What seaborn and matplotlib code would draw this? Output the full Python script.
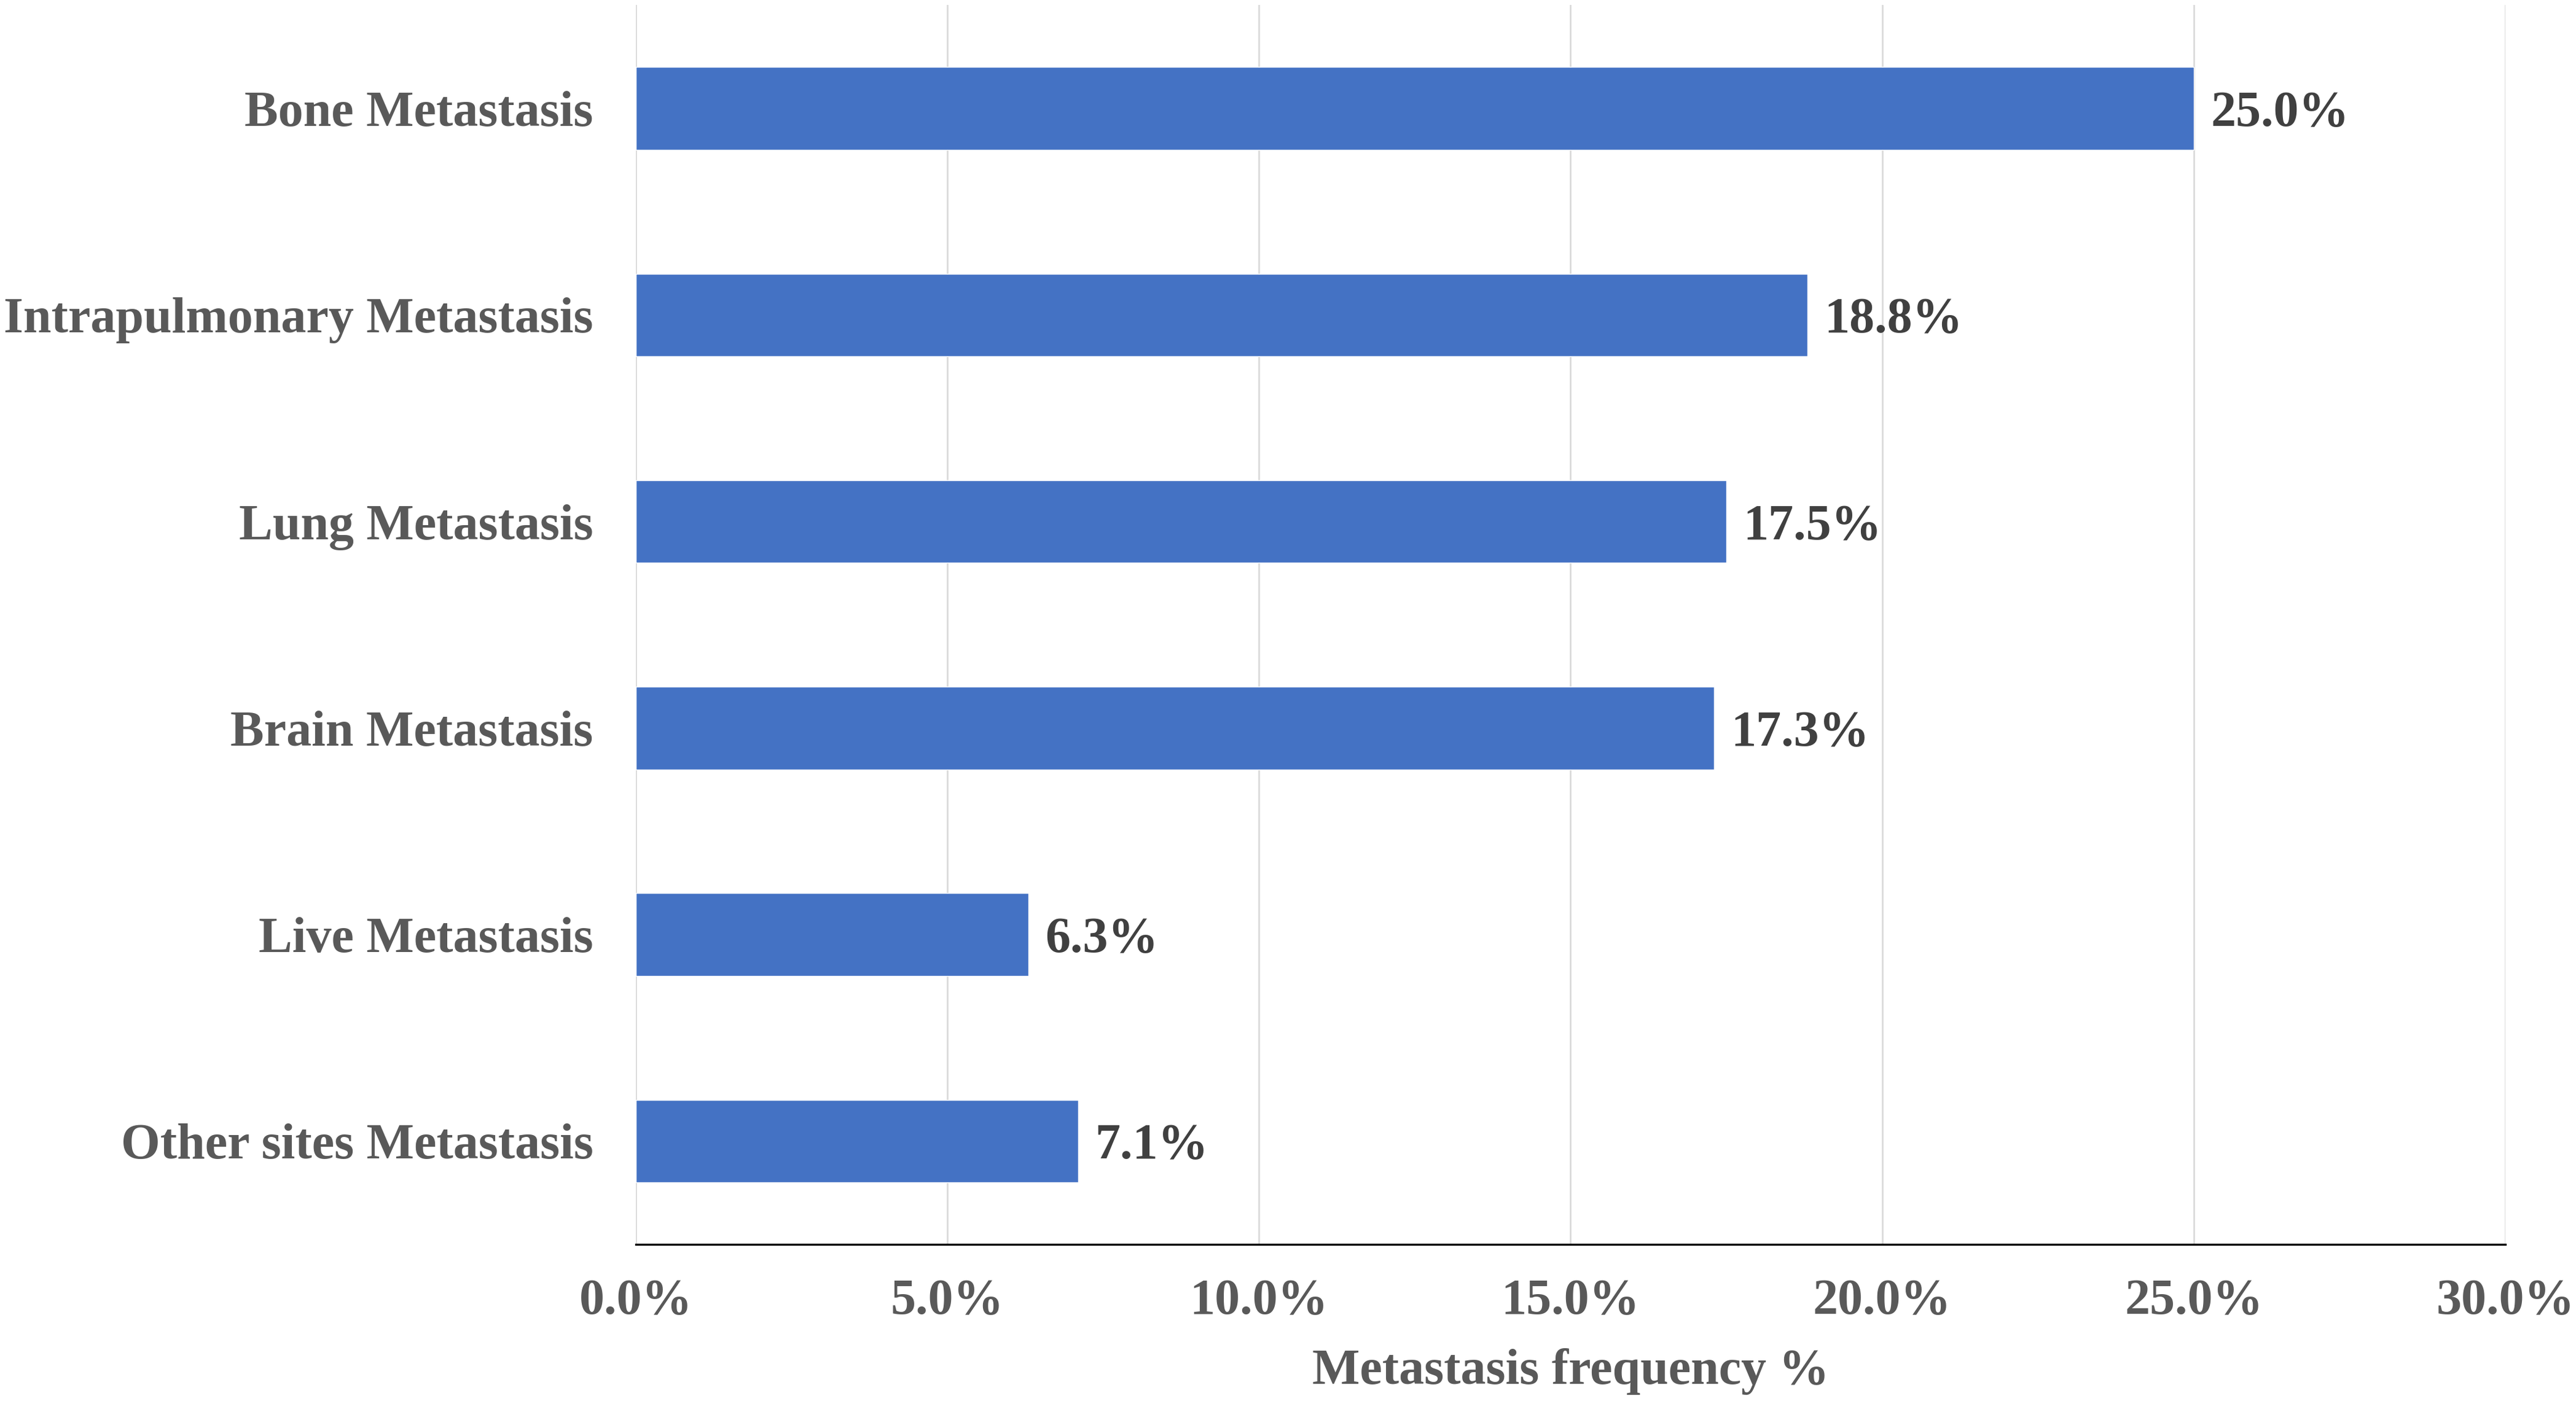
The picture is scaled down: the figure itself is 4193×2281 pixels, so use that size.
import matplotlib
matplotlib.use('Agg')
import matplotlib.pyplot as plt
import seaborn as sns
from matplotlib.ticker import PercentFormatter

# chart data
sites = ['Bone Metastasis', 'Intrapulmonary Metastasis', 'Lung Metastasis',
         'Brain Metastasis', 'Live Metastasis', 'Other sites Metastasis']
frequency = [25.0, 18.8, 17.5, 17.3, 6.3, 7.1]
x_ticks = [0, 5, 10, 15, 20, 25, 30]

sns.set_theme(style='white')
plt.rcParams['font.family'] = ['Liberation Serif', 'DejaVu Serif']
plt.rcParams['font.weight'] = 'bold'

fig = plt.figure(figsize=(41.93, 22.81), dpi=100)
ax = fig.add_axes([0.2468, 0.1118, 0.7258, 0.8845])

sns.barplot(x=frequency, y=sites, orient='h', color='#4472C4',
            width=0.4, saturation=1, ax=ax)

texts = ax.bar_label(ax.containers[0], labels=[f'{v:.1f}%' for v in frequency],
                     padding=20, fontsize=59, fontweight='bold', color='#404040')
for t in texts:
    t.set_va('center_baseline')

ax.set_xlim(0, 30)
ax.set_xticks(x_ticks)
ax.xaxis.set_major_formatter(PercentFormatter(decimals=1))
ax.grid(axis='x', color='#D9D9D9', linewidth=1.9)
ax.set_axisbelow(True)

for side in ['top', 'right', 'left']:
    ax.spines[side].set_visible(False)
ax.spines['bottom'].set_color('black')
ax.spines['bottom'].set_linewidth(2.4)

ax.tick_params(axis='x', length=0, pad=40, labelsize=59, labelcolor='#595959')
ax.tick_params(axis='y', length=0, pad=50, labelsize=59, labelcolor='#595959')
for lbl in ax.get_xticklabels() + ax.get_yticklabels():
    lbl.set_fontweight('bold')

ax.set_xlabel('Metastasis frequency %', fontsize=59, fontweight='bold',
              color='#595959', labelpad=28)
ax.set_ylabel('')

fig.savefig('out.png', dpi=100)
